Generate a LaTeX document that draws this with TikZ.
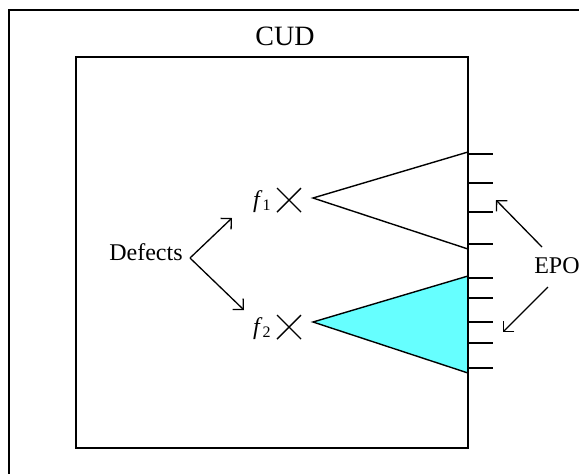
\documentclass[tikz,border=0pt]{standalone}
\usepackage{fontspec}
\setmainfont{Liberation Serif}
\usetikzlibrary{arrows.meta, shapes.misc}
\definecolor{epocyan}{RGB}{102,255,255}
\tikzset{
  frame/.style={draw, line width=0.75pt},
  edge line/.style={draw, line width=0.7pt},
  txt/.style={font=\fontsize{12}{14}\selectfont, inner sep=0pt},
  defect mark/.style={cross out, draw, line width=0.7pt,
    minimum size=12pt, inner sep=0pt, outer sep=0pt},
  ptr/.style={line width=0.65pt, -{Straight Barb[length=3.8pt, width=7.6pt]}},
}

\begin{document}
\begin{tikzpicture}[x=0.5pt, y=-0.5pt]
  \clip (0,0) rectangle (579,473);

  % triangles first, so the box edge lies on top
  \filldraw[edge line, fill=epocyan] (468,276) -- (313,322) -- (468,373) -- cycle;
  \draw[edge line] (468,152) -- (313,198) -- (468,249);

  % boxes
  \draw[frame] (9,10) rectangle (640,540);
  \draw[frame] (76,57) rectangle (468,448);
  \node[txt, font=\fontsize{14}{16}\selectfont] (cud) at (285,36) {CUD};

  % outputs on the right edge
  \foreach \y in {154,183,212,244,278,298,322,343,368}
    \draw[edge line] (468,\y) -- (493,\y);

  % defects
  \node[defect mark] (x1) at (289,200) {};
  \node[defect mark] (x2) at (289,327) {};
  \node[txt, anchor=base east] (f1) at (272,207) {\textit{f}\textsubscript{1}};
  \node[txt, anchor=base east] (f2) at (272,334) {\textit{f}\textsubscript{2}};

  \node[txt, anchor=east] (defects) at (183,252) {Defects};
  \coordinate (dv) at (190,258);
  \coordinate (dup) at (232,218);
  \coordinate (ddown) at (244,310);
  \draw[ptr] (dv) -- (dup);
  \draw[ptr] (dv) -- (ddown);

  \node[txt, anchor=east] (epo) at (580,266) {EPO};
  \coordinate (eupfrom) at (542,247);
  \coordinate (eup) at (496,200);
  \coordinate (edownfrom) at (548,287);
  \coordinate (edown) at (503,332);
  \draw[ptr] (eupfrom) -- (eup);
  \draw[ptr] (edownfrom) -- (edown);
\end{tikzpicture}
\end{document}
